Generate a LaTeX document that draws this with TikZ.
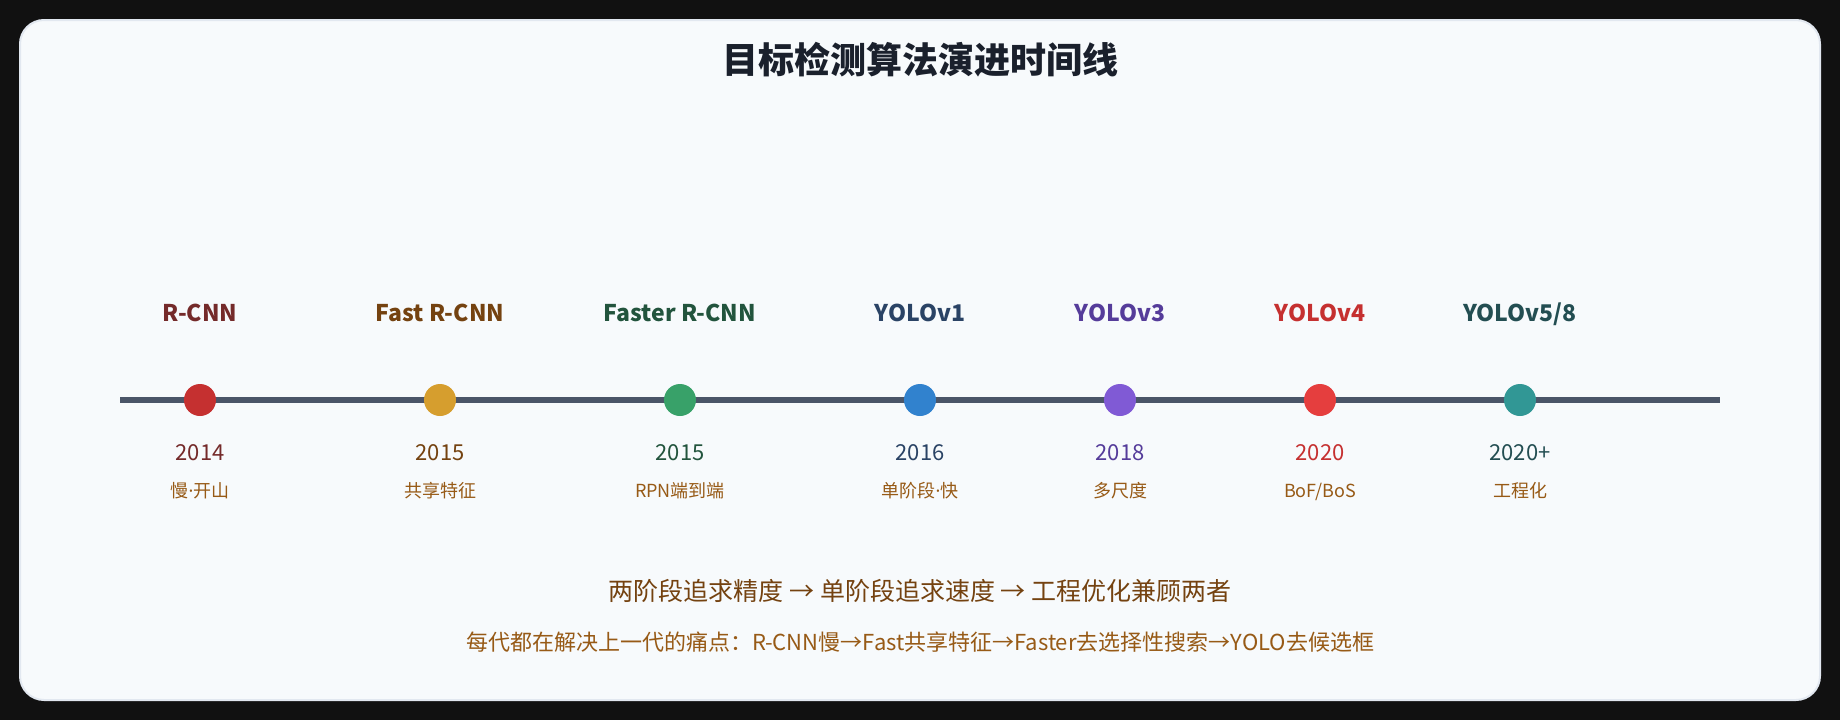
\documentclass[tikz,border=0pt]{standalone}
\usepackage{fontspec}
\setmainfont{Noto Sans CJK SC}
\newfontfamily\latinf{Noto Sans}
\newcommand{\mdot}{{\latinf ·}}
\definecolor{pagebg}{HTML}{111111}
\definecolor{cardbg}{HTML}{F7FAFC}
\definecolor{cardline}{HTML}{E2E8F0}
\definecolor{titlec}{HTML}{1A202C}
\definecolor{axisc}{HTML}{4A5568}
\definecolor{descc}{HTML}{975A16}
\definecolor{sumc}{HTML}{744210}
\definecolor{dA}{HTML}{C53030}\definecolor{tA}{HTML}{742A2A}
\definecolor{dB}{HTML}{D69E2E}\definecolor{tB}{HTML}{744210}
\definecolor{dC}{HTML}{38A169}\definecolor{tC}{HTML}{22543D}
\definecolor{dD}{HTML}{3182CE}\definecolor{tD}{HTML}{2A4365}
\definecolor{dE}{HTML}{805AD5}\definecolor{tE}{HTML}{553C9A}
\definecolor{dF}{HTML}{E53E3E}\definecolor{tF}{HTML}{C53030}
\definecolor{dG}{HTML}{319795}\definecolor{tG}{HTML}{234E52}
\tikzset{
  dot/.style={circle, fill=#1, minimum size=32pt, inner sep=0pt},
  namelbl/.style={anchor=base, inner sep=0pt, text=#1, font=\fontsize{23}{27}\selectfont\bfseries},
  yearlbl/.style={anchor=base, inner sep=0pt, text=#1, font=\fontsize{22}{26}\selectfont},
  desclbl/.style={anchor=base, inner sep=0pt, text=descc, font=\fontsize{18}{22}\selectfont},
  titlelbl/.style={anchor=base, inner sep=0pt, text=titlec, font=\fontsize{36}{42}\selectfont\bfseries},
  sumlbl/.style={anchor=base, inner sep=0pt, text=sumc, font=\fontsize{25}{29}\selectfont},
  notelbl/.style={anchor=base, inner sep=0pt, text=descc, font=\fontsize{22}{26}\selectfont},
}
\begin{document}
\begin{tikzpicture}[x=1pt, y=-1pt]
\useasboundingbox (0,0) rectangle (1840,720);
\fill[pagebg] (0,0) rectangle (1840,720);
\draw[fill=cardbg, draw=cardline, line width=2pt, rounded corners=24pt] (20,20) rectangle (1820,700);
\node[titlelbl] (title) at (920,73) {目标检测算法演进时间线};
\coordinate (axisL) at (120,400);
\coordinate (axisR) at (1720,400);
\draw[axisc, line width=6pt] (axisL) -- (axisR);
% milestones
\foreach \x/\dc/\tc/\nm/\yr/\ds/\id in {
  200/dA/tA/{R-CNN}/2014/{慢\mdot 开山}/a,
  440/dB/tB/{Fast R-CNN}/2015/{共享特征}/b,
  680/dC/tC/{Faster R-CNN}/2015/{RPN端到端}/c,
  920/dD/tD/{YOLOv1}/2016/{单阶段\mdot 快}/d,
  1120/dE/tE/{YOLOv3}/2018/{多尺度}/e,
  1320/dF/tF/{YOLOv4}/2020/{BoF/BoS}/f,
  1520/dG/tG/{YOLOv5/8}/{2020+}/{工程化}/g}{
  \node[dot=\dc] (dot\id) at (\x,400) {};
  \node[namelbl=\tc] (name\id) at (\x,321) {\nm};
  \node[yearlbl=\tc] (year\id) at (\x,460) {\yr};
  \node[desclbl] (desc\id) at (\x,497) {\ds};
}
\node[sumlbl] (summary) at (920,600) {两阶段追求精度 → 单阶段追求速度 → 工程优化兼顾两者};
\node[notelbl] (note) at (920,650) {每代都在解决上一代的痛点：R-CNN慢→Fast共享特征→Faster去选择性搜索→YOLO去候选框};
\end{tikzpicture}
\end{document}
